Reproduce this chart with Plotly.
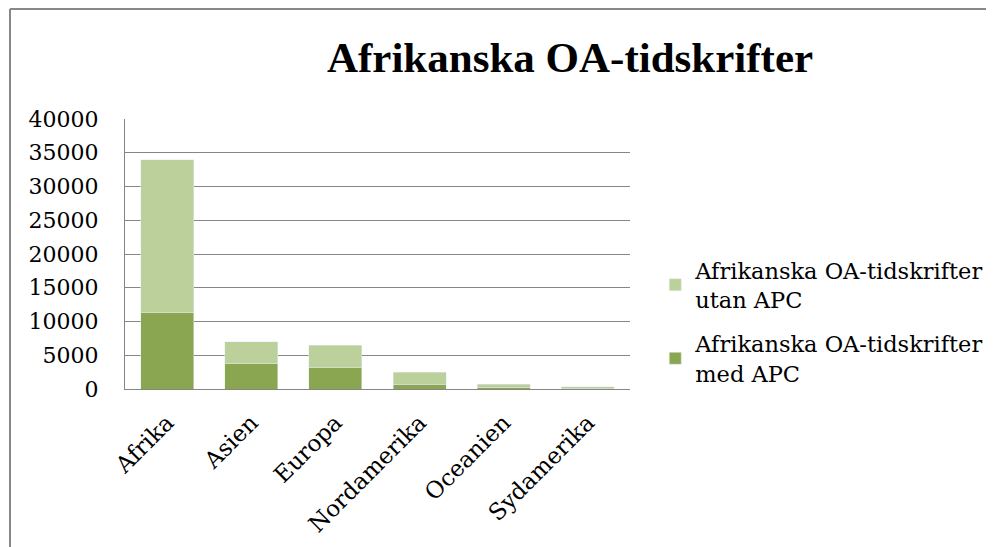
import plotly.graph_objects as go

categories = ["Afrika", "Asien", "Europa", "Nordamerika", "Oceanien", "Sydamerika"]
med_apc = [11300, 3750, 3150, 740, 200, 100]
utan_apc = [22700, 3250, 3350, 1730, 500, 240]
y_ticks = [0, 5000, 10000, 15000, 20000, 25000, 30000, 35000, 40000]
y_tick_labels = [str(v) for v in y_ticks]

font_family = "DejaVu Serif"

fig = go.Figure()
fig.add_trace(go.Bar(x=categories, y=med_apc,
                     name="Afrikanska OA-tidskrifter<br>med APC",
                     marker_color="#8BA650", legendgroup="med", legendrank=2))
fig.add_trace(go.Bar(x=categories, y=utan_apc,
                     name="Afrikanska OA-tidskrifter<br>utan APC",
                     marker_color="#BBD09A", legendgroup="utan", legendrank=1))

# page has an 8px body margin, so figure coords = screenshot coords - 8
fig.update_layout(
    barmode="stack",
    bargap=0.37,
    width=994, height=547,
    margin=dict(l=117, r=372, t=111, b=166),
    paper_bgcolor="white", plot_bgcolor="white",
    font=dict(family=font_family, size=22, color="black"),
    title=dict(text="<b>Afrikanska OA-tidskrifter</b>",
               font=dict(family="Liberation Serif", size=43, color="black"),
               x=562 / 994, xanchor="center", y=1 - 49 / 547, yanchor="middle"),
    legend=dict(traceorder="grouped", x=1.05, xanchor="left",
                y=0.25, yanchor="middle", tracegroupgap=12,
                font=dict(size=22.5), itemwidth=30),
    showlegend=True,
)
fig.update_yaxes(range=[0, 40000], tickvals=y_ticks, ticktext=y_tick_labels,
                 showgrid=True, gridcolor="#868686", gridwidth=1, showline=True,
                 linecolor="#868686", linewidth=1, ticks="",
                 ticklabelstandoff=21, zeroline=False)
fig.update_xaxes(tickangle=-45, showline=True, linecolor="#868686",
                 linewidth=1, tickfont=dict(size=23), ticklabelstandoff=10)

# chart border (top and left edges visible)
fig.add_shape(type="line", xref="paper", yref="paper",
              x0=(2 - 117) / 505, x1=2, y0=(381 - 1) / 270, y1=(381 - 1) / 270,
              line=dict(color="#888888", width=2))
fig.add_shape(type="line", xref="paper", yref="paper",
              x0=(2 - 117) / 505, x1=(2 - 117) / 505, y0=(381 - 1) / 270, y1=-1,
              line=dict(color="#888888", width=2))

fig.write_html("out.html")
